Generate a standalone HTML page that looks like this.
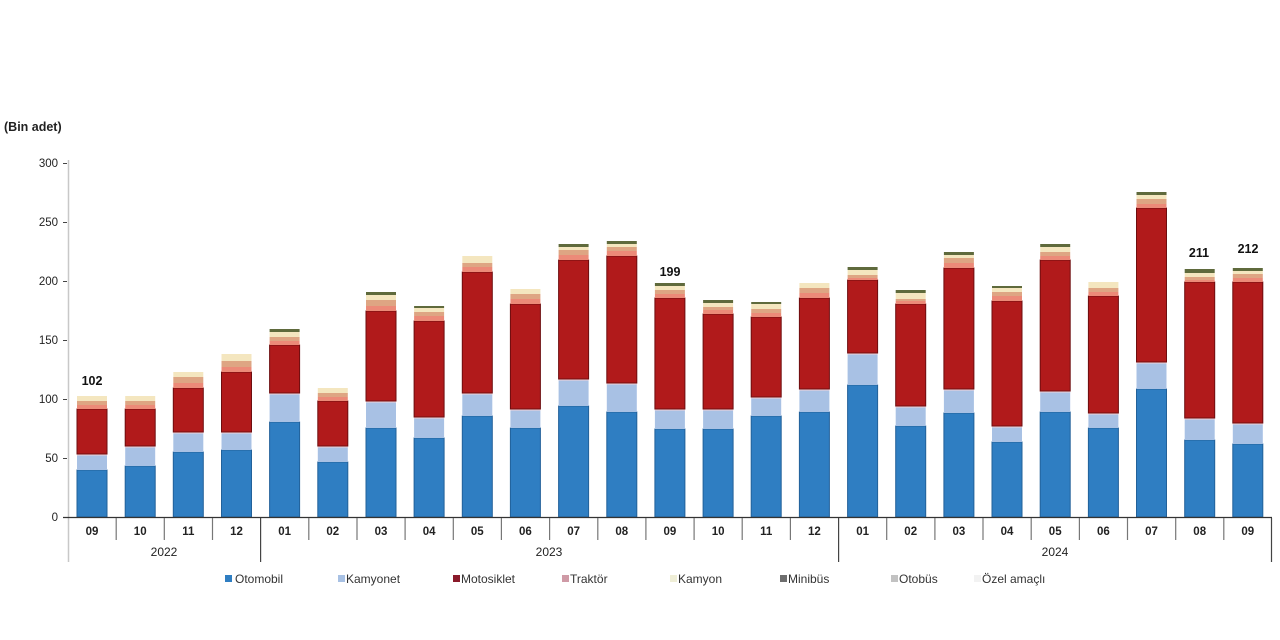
<!DOCTYPE html>
<html><head><meta charset="utf-8"><style>
html,body{margin:0;padding:0;background:#fff;}
svg{display:block;font-family:"Liberation Sans",Arial,sans-serif;}
.b{fill:#2f7ec2;stroke:#22619a;stroke-width:1}
.l{fill:#a8c1e4}
.p{fill:#f2d3da}
.r{fill:#b11a1b;stroke:#6e0d0f;stroke-width:1}
.s{fill:#ec8a78}
.t{fill:#dea583}
.c{fill:#f4e6bf}
.d{fill:#5f6a3c}
.tk{font-size:11.5px;fill:#222;text-anchor:end}
.m{font-size:11.5px;fill:#222;text-anchor:middle;font-weight:bold}
.y{font-size:12px;fill:#222;text-anchor:middle}
.v{font-size:12.5px;fill:#111;text-anchor:middle;font-weight:bold}
.lg{font-size:12px;fill:#333}
</style></head><body>
<svg width="1280" height="640" viewBox="0 0 1280 640" xmlns="http://www.w3.org/2000/svg">
<rect width="1280" height="640" fill="#fff"/>
<text x="4" y="131" style="font-size:12.5px;font-weight:bold;fill:#222">(Bin adet)</text>
<!-- y axis -->
<line x1="68.5" y1="160" x2="68.5" y2="562" stroke="#c8c8c8" stroke-width="1.5"/>
<g class="tk">
<text x="58" y="167">300</text>
<text x="58" y="226">250</text>
<text x="58" y="285">200</text>
<text x="58" y="344">150</text>
<text x="58" y="403">100</text>
<text x="58" y="462">50</text>
<text x="58" y="521">0</text>
</g>
<g stroke="#444" stroke-width="1">
<line x1="63" y1="163.5" x2="67" y2="163.5"/>
<line x1="63" y1="222.5" x2="67" y2="222.5"/>
<line x1="63" y1="281.5" x2="67" y2="281.5"/>
<line x1="63" y1="340.5" x2="67" y2="340.5"/>
<line x1="63" y1="399.5" x2="67" y2="399.5"/>
<line x1="63" y1="458.5" x2="67" y2="458.5"/>
</g>

<!-- bars -->
<g transform="translate(77,0)"><rect class="b" x="0" y="470" width="30" height="47"/><rect class="l" x="0" y="454" width="30" height="16"/><rect class="p" x="0" y="454" width="30" height="1.5"/><rect class="r" x="0" y="409" width="30" height="45"/><rect class="s" x="0" y="405" width="30" height="4"/><rect class="t" x="0" y="401" width="30" height="4"/><rect class="c" x="0" y="396" width="30" height="5"/></g>
<g transform="translate(125.2,0)"><rect class="b" x="0" y="466" width="30" height="51"/><rect class="l" x="0" y="446" width="30" height="20"/><rect class="p" x="0" y="446" width="30" height="1.5"/><rect class="r" x="0" y="409" width="30" height="37"/><rect class="s" x="0" y="405" width="30" height="4"/><rect class="t" x="0" y="401" width="30" height="4"/><rect class="c" x="0" y="396" width="30" height="5"/></g>
<g transform="translate(173.3,0)"><rect class="b" x="0" y="452" width="30" height="65"/><rect class="l" x="0" y="432" width="30" height="20"/><rect class="p" x="0" y="432" width="30" height="1.5"/><rect class="r" x="0" y="388" width="30" height="44"/><rect class="s" x="0" y="383" width="30" height="5"/><rect class="t" x="0" y="377" width="30" height="6"/><rect class="c" x="0" y="372" width="30" height="5"/></g>
<g transform="translate(221.5,0)"><rect class="b" x="0" y="450" width="30" height="67"/><rect class="l" x="0" y="432" width="30" height="18"/><rect class="p" x="0" y="432" width="30" height="1.5"/><rect class="r" x="0" y="372" width="30" height="60"/><rect class="s" x="0" y="367" width="30" height="5"/><rect class="t" x="0" y="361" width="30" height="6"/><rect class="c" x="0" y="354" width="30" height="7"/></g>
<g transform="translate(269.6,0)"><rect class="b" x="0" y="422" width="30" height="95"/><rect class="l" x="0" y="393" width="30" height="29"/><rect class="p" x="0" y="393" width="30" height="1.5"/><rect class="r" x="0" y="345" width="30" height="48"/><rect class="s" x="0" y="341" width="30" height="4"/><rect class="t" x="0" y="337" width="30" height="4"/><rect class="c" x="0" y="332" width="30" height="5"/><rect class="d" x="0" y="329" width="30" height="3"/></g>
<g transform="translate(317.8,0)"><rect class="b" x="0" y="462" width="30" height="55"/><rect class="l" x="0" y="446" width="30" height="16"/><rect class="p" x="0" y="446" width="30" height="1.5"/><rect class="r" x="0" y="401" width="30" height="45"/><rect class="s" x="0" y="397" width="30" height="4"/><rect class="t" x="0" y="393" width="30" height="4"/><rect class="c" x="0" y="388" width="30" height="5"/></g>
<g transform="translate(366,0)"><rect class="b" x="0" y="428" width="30" height="89"/><rect class="l" x="0" y="401" width="30" height="27"/><rect class="p" x="0" y="401" width="30" height="1.5"/><rect class="r" x="0" y="311" width="30" height="90"/><rect class="s" x="0" y="306" width="30" height="5"/><rect class="t" x="0" y="300" width="30" height="6"/><rect class="c" x="0" y="295" width="30" height="5"/><rect class="d" x="0" y="292" width="30" height="3"/></g>
<g transform="translate(414.1,0)"><rect class="b" x="0" y="438" width="30" height="79"/><rect class="l" x="0" y="417" width="30" height="21"/><rect class="p" x="0" y="417" width="30" height="1.5"/><rect class="r" x="0" y="321" width="30" height="96"/><rect class="s" x="0" y="316" width="30" height="5"/><rect class="t" x="0" y="312" width="30" height="4"/><rect class="c" x="0" y="308" width="30" height="4"/><rect class="d" x="0" y="306" width="30" height="2"/></g>
<g transform="translate(462.3,0)"><rect class="b" x="0" y="416" width="30" height="101"/><rect class="l" x="0" y="393" width="30" height="23"/><rect class="p" x="0" y="393" width="30" height="1.5"/><rect class="r" x="0" y="272" width="30" height="121"/><rect class="s" x="0" y="267" width="30" height="5"/><rect class="t" x="0" y="263" width="30" height="4"/><rect class="c" x="0" y="256" width="30" height="7"/></g>
<g transform="translate(510.4,0)"><rect class="b" x="0" y="428" width="30" height="89"/><rect class="l" x="0" y="409" width="30" height="19"/><rect class="p" x="0" y="409" width="30" height="1.5"/><rect class="r" x="0" y="304" width="30" height="105"/><rect class="s" x="0" y="299" width="30" height="5"/><rect class="t" x="0" y="294" width="30" height="5"/><rect class="c" x="0" y="289" width="30" height="5"/></g>
<g transform="translate(558.6,0)"><rect class="b" x="0" y="406" width="30" height="111"/><rect class="l" x="0" y="379" width="30" height="27"/><rect class="p" x="0" y="379" width="30" height="1.5"/><rect class="r" x="0" y="260" width="30" height="119"/><rect class="s" x="0" y="255" width="30" height="5"/><rect class="t" x="0" y="250" width="30" height="5"/><rect class="c" x="0" y="247" width="30" height="3"/><rect class="d" x="0" y="244" width="30" height="3"/></g>
<g transform="translate(606.8,0)"><rect class="b" x="0" y="412" width="30" height="105"/><rect class="l" x="0" y="383" width="30" height="29"/><rect class="p" x="0" y="383" width="30" height="1.5"/><rect class="r" x="0" y="256" width="30" height="127"/><rect class="s" x="0" y="251" width="30" height="5"/><rect class="t" x="0" y="247" width="30" height="4"/><rect class="c" x="0" y="244" width="30" height="3"/><rect class="d" x="0" y="241" width="30" height="3"/></g>
<g transform="translate(654.9,0)"><rect class="b" x="0" y="429" width="30" height="88"/><rect class="l" x="0" y="409" width="30" height="20"/><rect class="p" x="0" y="409" width="30" height="1.5"/><rect class="r" x="0" y="298" width="30" height="111"/><rect class="s" x="0" y="294" width="30" height="4"/><rect class="t" x="0" y="290" width="30" height="4"/><rect class="c" x="0" y="286" width="30" height="4"/><rect class="d" x="0" y="283" width="30" height="3"/></g>
<g transform="translate(703.1,0)"><rect class="b" x="0" y="429" width="30" height="88"/><rect class="l" x="0" y="409" width="30" height="20"/><rect class="p" x="0" y="409" width="30" height="1.5"/><rect class="r" x="0" y="314" width="30" height="95"/><rect class="s" x="0" y="310" width="30" height="4"/><rect class="t" x="0" y="307" width="30" height="3"/><rect class="c" x="0" y="303" width="30" height="4"/><rect class="d" x="0" y="300" width="30" height="3"/></g>
<g transform="translate(751.2,0)"><rect class="b" x="0" y="416" width="30" height="101"/><rect class="l" x="0" y="397" width="30" height="19"/><rect class="p" x="0" y="397" width="30" height="1.5"/><rect class="r" x="0" y="317" width="30" height="80"/><rect class="s" x="0" y="313" width="30" height="4"/><rect class="t" x="0" y="309" width="30" height="4"/><rect class="c" x="0" y="304" width="30" height="5"/><rect class="d" x="0" y="302" width="30" height="2"/></g>
<g transform="translate(799.4,0)"><rect class="b" x="0" y="412" width="30" height="105"/><rect class="l" x="0" y="389" width="30" height="23"/><rect class="p" x="0" y="389" width="30" height="1.5"/><rect class="r" x="0" y="298" width="30" height="91"/><rect class="s" x="0" y="293" width="30" height="5"/><rect class="t" x="0" y="288" width="30" height="5"/><rect class="c" x="0" y="283" width="30" height="5"/></g>
<g transform="translate(847.6,0)"><rect class="b" x="0" y="385" width="30" height="132"/><rect class="l" x="0" y="353" width="30" height="32"/><rect class="p" x="0" y="353" width="30" height="1.5"/><rect class="r" x="0" y="280" width="30" height="73"/><rect class="s" x="0" y="278" width="30" height="2"/><rect class="t" x="0" y="275" width="30" height="3"/><rect class="c" x="0" y="270" width="30" height="5"/><rect class="d" x="0" y="267" width="30" height="3"/></g>
<g transform="translate(895.7,0)"><rect class="b" x="0" y="426" width="30" height="91"/><rect class="l" x="0" y="406" width="30" height="20"/><rect class="p" x="0" y="406" width="30" height="1.5"/><rect class="r" x="0" y="304" width="30" height="102"/><rect class="s" x="0" y="301" width="30" height="3"/><rect class="t" x="0" y="299" width="30" height="2"/><rect class="c" x="0" y="293" width="30" height="6"/><rect class="d" x="0" y="290" width="30" height="3"/></g>
<g transform="translate(943.9,0)"><rect class="b" x="0" y="413" width="30" height="104"/><rect class="l" x="0" y="389" width="30" height="24"/><rect class="p" x="0" y="389" width="30" height="1.5"/><rect class="r" x="0" y="268" width="30" height="121"/><rect class="s" x="0" y="263" width="30" height="5"/><rect class="t" x="0" y="258" width="30" height="5"/><rect class="c" x="0" y="255" width="30" height="3"/><rect class="d" x="0" y="252" width="30" height="3"/></g>
<g transform="translate(992,0)"><rect class="b" x="0" y="442" width="30" height="75"/><rect class="l" x="0" y="426" width="30" height="16"/><rect class="p" x="0" y="426" width="30" height="1.5"/><rect class="r" x="0" y="301" width="30" height="125"/><rect class="s" x="0" y="296" width="30" height="5"/><rect class="t" x="0" y="292" width="30" height="4"/><rect class="c" x="0" y="288" width="30" height="4"/><rect class="d" x="0" y="286" width="30" height="2"/></g>
<g transform="translate(1040.2,0)"><rect class="b" x="0" y="412" width="30" height="105"/><rect class="l" x="0" y="391" width="30" height="21"/><rect class="p" x="0" y="391" width="30" height="1.5"/><rect class="r" x="0" y="260" width="30" height="131"/><rect class="s" x="0" y="256" width="30" height="4"/><rect class="t" x="0" y="252" width="30" height="4"/><rect class="c" x="0" y="247" width="30" height="5"/><rect class="d" x="0" y="244" width="30" height="3"/></g>
<g transform="translate(1088.4,0)"><rect class="b" x="0" y="428" width="30" height="89"/><rect class="l" x="0" y="413" width="30" height="15"/><rect class="p" x="0" y="413" width="30" height="1.5"/><rect class="r" x="0" y="296" width="30" height="117"/><rect class="s" x="0" y="292" width="30" height="4"/><rect class="t" x="0" y="288" width="30" height="4"/><rect class="c" x="0" y="282" width="30" height="6"/></g>
<g transform="translate(1136.5,0)"><rect class="b" x="0" y="389" width="30" height="128"/><rect class="l" x="0" y="362" width="30" height="27"/><rect class="p" x="0" y="362" width="30" height="1.5"/><rect class="r" x="0" y="208" width="30" height="154"/><rect class="s" x="0" y="204" width="30" height="4"/><rect class="t" x="0" y="199" width="30" height="5"/><rect class="c" x="0" y="195" width="30" height="4"/><rect class="d" x="0" y="192" width="30" height="3"/></g>
<g transform="translate(1184.7,0)"><rect class="b" x="0" y="440" width="30" height="77"/><rect class="l" x="0" y="418" width="30" height="22"/><rect class="p" x="0" y="418" width="30" height="1.5"/><rect class="r" x="0" y="282" width="30" height="136"/><rect class="s" x="0" y="280" width="30" height="2"/><rect class="t" x="0" y="277" width="30" height="3"/><rect class="c" x="0" y="273" width="30" height="4"/><rect class="d" x="0" y="269" width="30" height="4"/></g>
<g transform="translate(1232.8,0)"><rect class="b" x="0" y="444" width="30" height="73"/><rect class="l" x="0" y="423" width="30" height="21"/><rect class="p" x="0" y="423" width="30" height="1.5"/><rect class="r" x="0" y="282" width="30" height="141"/><rect class="s" x="0" y="278" width="30" height="4"/><rect class="t" x="0" y="274" width="30" height="4"/><rect class="c" x="0" y="271" width="30" height="3"/><rect class="d" x="0" y="268" width="30" height="3"/></g>

<!-- value labels -->
<text class="v" x="92" y="385">102</text>
<text class="v" x="670" y="276">199</text>
<text class="v" x="1199" y="257">211</text>
<text class="v" x="1248" y="253">212</text>

<!-- x axis -->
<line x1="63" y1="517.5" x2="1272" y2="517.5" stroke="#333" stroke-width="1.2"/>
<path d="M116.2 518V540M164.3 518V540M212.5 518V540M308.8 518V540M357 518V540M405.1 518V540M453.3 518V540M501.4 518V540M549.6 518V540M597.8 518V540M645.9 518V540M694.1 518V540M742.2 518V540M790.4 518V540M886.7 518V540M934.9 518V540M983 518V540M1031.2 518V540M1079.4 518V540M1127.5 518V540M1175.7 518V540M1223.8 518V540" stroke="#777" stroke-width="1.2" fill="none"/>
<path d="M260.6 518V562M838.6 518V562M1271.5 518V562" stroke="#444" stroke-width="1.2" fill="none"/>

<g class="m">
<text x="92" y="535">09</text>
<text x="140.2" y="535">10</text>
<text x="188.3" y="535">11</text>
<text x="236.5" y="535">12</text>
<text x="284.6" y="535">01</text>
<text x="332.8" y="535">02</text>
<text x="381" y="535">03</text>
<text x="429.1" y="535">04</text>
<text x="477.3" y="535">05</text>
<text x="525.4" y="535">06</text>
<text x="573.6" y="535">07</text>
<text x="621.8" y="535">08</text>
<text x="669.9" y="535">09</text>
<text x="718.1" y="535">10</text>
<text x="766.2" y="535">11</text>
<text x="814.4" y="535">12</text>
<text x="862.6" y="535">01</text>
<text x="910.7" y="535">02</text>
<text x="958.9" y="535">03</text>
<text x="1007" y="535">04</text>
<text x="1055.2" y="535">05</text>
<text x="1103.4" y="535">06</text>
<text x="1151.5" y="535">07</text>
<text x="1199.7" y="535">08</text>
<text x="1247.8" y="535">09</text>
</g>
<g class="y">
<text x="164" y="556">2022</text>
<text x="549" y="556">2023</text>
<text x="1055" y="556">2024</text>
</g>

<!-- legend -->
<rect x="225" y="575" width="7" height="7" fill="#2f7ec2"/>
<text class="lg" x="235" y="583">Otomobil</text>
<rect x="338" y="575" width="7" height="7" fill="#a8c1e4"/>
<text class="lg" x="346" y="583">Kamyonet</text>
<rect x="453" y="575" width="7" height="7" fill="#8a1a2a"/>
<text class="lg" x="461" y="583">Motosiklet</text>
<rect x="562" y="575" width="7" height="7" fill="#cf9aa6"/>
<text class="lg" x="570" y="583">Traktör</text>
<rect x="670" y="575" width="7" height="7" fill="#efeed6"/>
<text class="lg" x="678" y="583">Kamyon</text>
<rect x="780" y="575" width="7" height="7" fill="#6e6e6e"/>
<text class="lg" x="788" y="583">Minibüs</text>
<rect x="891" y="575" width="7" height="7" fill="#c2c2c2"/>
<text class="lg" x="899" y="583">Otobüs</text>
<rect x="974" y="575" width="7" height="7" fill="#f2f2f2"/>
<text class="lg" x="982" y="583">Özel amaçlı</text>
</svg>
</body></html>
